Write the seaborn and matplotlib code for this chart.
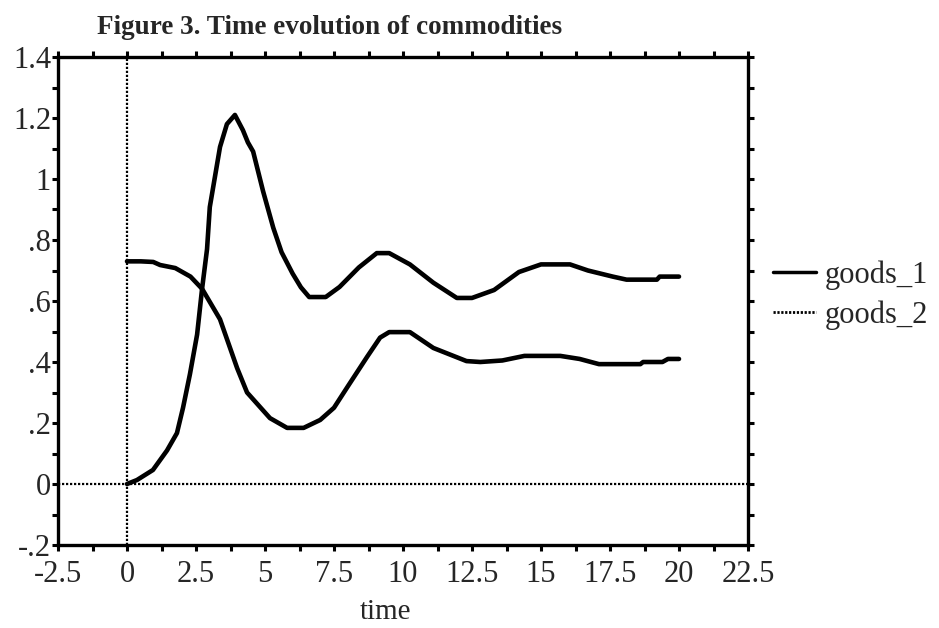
import matplotlib
matplotlib.use("Agg")
import matplotlib.pyplot as plt
from matplotlib.lines import Line2D
from matplotlib.ticker import MultipleLocator
import seaborn as sns
import pandas as pd

# values
t_goods1 = [0, 0.5, 0.95, 1.2, 1.75, 2.3, 2.72, 3.37, 3.99, 4.35, 5.18, 5.8, 6.4, 7.0,
            7.5, 8.0, 8.7, 9.17, 9.5, 10.25, 11.1, 12.3, 12.8, 13.6, 14.4, 15.7, 16.4,
            17.1, 18.6, 18.7, 19.4, 19.6, 20]
goods_1 = [0.73, 0.73, 0.728, 0.718, 0.708, 0.68, 0.64, 0.54, 0.38, 0.30, 0.216, 0.184,
           0.184, 0.21, 0.25, 0.32, 0.417, 0.48, 0.498, 0.498, 0.446, 0.403, 0.40, 0.405,
           0.42, 0.42, 0.41, 0.393, 0.393, 0.40, 0.40, 0.41, 0.41]

t_goods2 = [0, 0.36, 0.94, 1.45, 1.81, 2.03, 2.28, 2.54, 2.72, 2.9, 3.0, 3.37, 3.62, 3.91,
            4.2, 4.38, 4.57, 4.93, 5.3, 5.6, 6.0, 6.3, 6.6, 7.2, 7.7, 8.4, 9.05, 9.5,
            10.25, 11.1, 11.95, 12.5, 13.3, 14.2, 15.0, 16.05, 16.7, 17.6, 18.1, 19.2,
            19.3, 20]
goods_2 = [0.0, 0.013, 0.046, 0.11, 0.167, 0.25, 0.36, 0.49, 0.64, 0.77, 0.908, 1.105,
           1.18, 1.21, 1.16, 1.12, 1.09, 0.96, 0.84, 0.76, 0.69, 0.645, 0.613, 0.613,
           0.646, 0.71, 0.757, 0.757, 0.72, 0.66, 0.61, 0.61, 0.636, 0.695, 0.72, 0.72,
           0.70, 0.68, 0.67, 0.67, 0.68, 0.68]

x_ticks = [-2.5, 0, 2.5, 5, 7.5, 10, 12.5, 15, 17.5, 20, 22.5]
x_labels = ["-2.5", "0", "2.5", "5", "7.5", "10", "12.5", "15", "17.5", "20", "22.5"]
y_ticks = [-0.2, 0, 0.2, 0.4, 0.6, 0.8, 1.0, 1.2, 1.4]
y_labels = ["-.2", "0", ".2", ".4", ".6", ".8", "1", "1.2", "1.4"]

df1 = pd.DataFrame({"time": t_goods1, "value": goods_1})
df2 = pd.DataFrame({"time": t_goods2, "value": goods_2})

sns.set_theme(style="ticks")
plt.rcParams["font.family"] = ["Liberation Serif", "DejaVu Serif"]

fig = plt.figure(figsize=(9.39, 6.28), dpi=100)
ax = fig.add_axes([58 / 939, 1 - 545 / 628, 690 / 939, 488 / 628])

# reference lines
ax.axhline(0, color="black", lw=1.6, ls=(0, (1, 0.8)), zorder=1)
ax.axvline(0, color="black", lw=1.6, ls=(0, (1, 0.8)), zorder=1)

sns.lineplot(data=df1, x="time", y="value", ax=ax, color="black", lw=3.3,
             estimator=None, sort=False)
sns.lineplot(data=df2, x="time", y="value", ax=ax, color="black", lw=3.3,
             estimator=None, sort=False)

ax.set_xlim(-2.5, 22.5)
ax.set_ylim(-0.2, 1.4)
ax.set_xticks(x_ticks)
ax.set_xticklabels(x_labels)
ax.set_yticks(y_ticks)
ax.set_yticklabels(y_labels)
ax.xaxis.set_minor_locator(MultipleLocator(1.25))
ax.yaxis.set_minor_locator(MultipleLocator(0.1))

ax.tick_params(which="both", direction="out", length=4, width=2.2, color="black",
               top=True, right=True, labelsize=22)
ax.tick_params(axis="x", pad=7)
ax.tick_params(axis="y", pad=1)
for s in ax.spines.values():
    s.set_linewidth(2.4)
    s.set_color("black")

ax.set_xlabel("time", fontsize=21)
ax.xaxis.set_label_coords((385 - 58) / 690, -0.11)
ax.set_ylabel("")

handles = [Line2D([], [], color="black", lw=2.5),
           Line2D([], [], color="black", lw=2.0, ls=(0, (0.8, 0.6)))]
fig.legend(handles, ["goods_1", "goods_2"], loc="upper left",
           bbox_to_anchor=(773 / 939, 1 - 260 / 628), frameon=False, fontsize=22,
           handlelength=1.4, handletextpad=0.3, labelspacing=0.35, borderpad=0,
           borderaxespad=0)

fig.text(97 / 939, 1 - 28 / 628, "Figure 3. Time evolution of commodities",
         fontsize=19.5, fontweight="bold", ha="left", va="center")

fig.savefig("out.png", dpi=100)
